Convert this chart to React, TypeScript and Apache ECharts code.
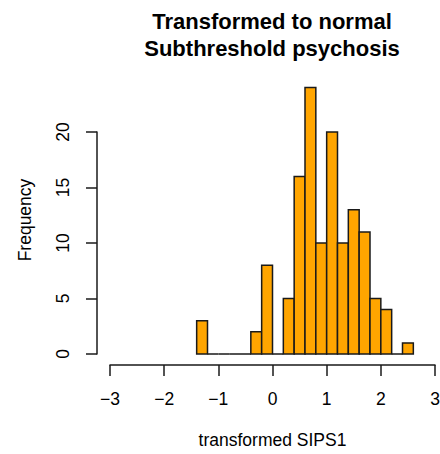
import React, { useEffect, useRef } from "react";
import * as echarts from "echarts";

// Histogram bin edges (width 0.2) and the count in each bin
const binEdges = [
  -1.4, -1.2, -1.0, -0.8, -0.6, -0.4, -0.2, 0.0, 0.2, 0.4, 0.6,
  0.8, 1.0, 1.2, 1.4, 1.6, 1.8, 2.0, 2.2, 2.4, 2.6,
];
const counts = [3, 0, 0, 0, 0, 2, 8, 0, 5, 16, 24, 10, 20, 10, 13, 11, 5, 4, 0, 1];

const xTicks = [-3, 3];
const yTicks = [0, 20];

const FONT = "'Liberation Sans', Arial, Helvetica, sans-serif";
const LABEL_SIZE = 17.5;
const INK = "#1a1a1a";

export default function App() {
  const ref = useRef<HTMLDivElement>(null);

  useEffect(() => {
    if (!ref.current) return;
    const chart = echarts.init(ref.current, undefined, { renderer: "svg" });

    const data = counts.map((c, i) => [binEdges[i], binEdges[i + 1], c]);

    chart.setOption({
      animation: false,
      backgroundColor: "#ffffff",
      textStyle: { fontFamily: FONT },
      title: {
        text: "Transformed to normal\nSubthreshold psychosis",
        left: 272,
        top: 8,
        padding: 0,
        textAlign: "center",
        textStyle: {
          fontFamily: FONT,
          fontWeight: "bold",
          fontSize: 22,
          lineHeight: 27,
          color: "#000",
        },
      },
      grid: {
        left: 110,
        right: 5,
        top: 132,
        bottom: 100,
        containLabel: false,
        outerBoundsMode: "none",
      },
      xAxis: {
        type: "value",
        min: xTicks[0],
        max: xTicks[1],
        interval: 1,
        offset: 11,
        name: "transformed SIPS1",
        nameLocation: "middle",
        nameGap: 66,
        nameTextStyle: { fontFamily: FONT, fontSize: LABEL_SIZE, color: "#000" },
        axisLine: { show: true, onZero: false, lineStyle: { color: INK, width: 1.5 } },
        axisTick: { show: true, length: 11, lineStyle: { color: INK, width: 1.5 } },
        axisLabel: {
          margin: 25,
          fontFamily: FONT,
          fontSize: LABEL_SIZE,
          color: "#000",
          hideOverlap: false,
          showMinLabel: true,
          showMaxLabel: true,
          formatter: (v: number) => (v < 0 ? "\u2212" + Math.abs(v) : String(v)),
        },
        splitLine: { show: false },
      },
      yAxis: {
        type: "value",
        min: yTicks[0],
        max: yTicks[1],
        interval: 5,
        offset: 13,
        axisLine: { show: true, onZero: false, lineStyle: { color: INK, width: 1.5 } },
        axisTick: { show: true, length: 11, lineStyle: { color: INK, width: 1.5 } },
        axisLabel: {
          rotate: 90,
          margin: 25,
          fontFamily: FONT,
          fontSize: LABEL_SIZE,
          color: "#000",
          showMinLabel: true,
          showMaxLabel: true,
        },
        splitLine: { show: false },
      },
      graphic: [
        {
          type: "text",
          x: 25,
          y: 220,
          rotation: Math.PI / 2,
          style: {
            text: "Frequency",
            font: `${LABEL_SIZE}px ${FONT}`,
            fill: "#000",
            align: "center",
            verticalAlign: "middle",
          },
        },
      ],
      series: [
        {
          type: "custom",
          clip: false,
          data,
          encode: { x: [0, 1], y: 2 },
          renderItem: (params: any, api: any) => {
            const x0 = api.value(0);
            const x1 = api.value(1);
            const c = api.value(2);
            const p0 = api.coord([x0, 0]);
            const p1 = api.coord([x1, c]);
            return {
              type: "polygon",
              shape: {
                points: [
                  [p0[0], p0[1]],
                  [p1[0], p0[1]],
                  [p1[0], p1[1]],
                  [p0[0], p1[1]],
                ],
              },
              style: { fill: "#FFA500", stroke: INK, lineWidth: 1.5 },
            };
          },
        },
      ],
    });

    return () => chart.dispose();
  }, []);

  return (
    <div
      ref={ref}
      style={{ position: "fixed", left: 0, top: 0, width: 440, height: 454 }}
    />
  );
}
